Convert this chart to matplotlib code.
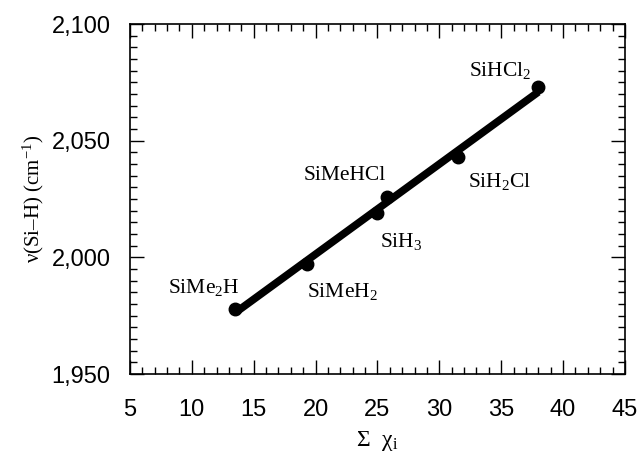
#!/usr/bin/env python3
import matplotlib
matplotlib.use("Agg")
import matplotlib.pyplot as plt
import numpy as np
from matplotlib.ticker import MultipleLocator, FuncFormatter

plt.rcParams["mathtext.fontset"] = "custom"
plt.rcParams["mathtext.rm"] = "Liberation Serif"
plt.rcParams["mathtext.it"] = "Liberation Serif:italic"

# data
names = [r"SiMe$_2$H", r"SiMeH$_2$", r"SiH$_3$", "SiMeHCl", r"SiH$_2$Cl", r"SiHCl$_2$"]
sum_chi = [13.5, 19.3, 25.0, 25.8, 31.5, 38.0]
nu_sih = [1978, 1997, 2019, 2026, 2043, 2073]

# label anchors (data coords, left/center aligned)
label_x = [8.1, 19.3, 25.2, 19.0, 32.3, 32.4]
label_y = [1987, 1985.5, 2007, 2035.3, 2032.7, 2080]

serif = "Liberation Serif"
sans = "Liberation Sans"

fig = plt.figure(figsize=(6.39, 4.54), dpi=100)
ax = fig.add_axes([0.2034, 0.1762, 0.7746, 0.7708])

x = np.array(sum_chi)
y = np.array(nu_sih)
slope, icpt = np.polyfit(x, y, 1)
ax.plot([x.min(), x.max()], [slope * x.min() + icpt, slope * x.max() + icpt],
        color="black", lw=5.5, solid_capstyle="butt")
ax.plot(x, y, "o", color="black", ms=9)

for name, lx, ly in zip(names, label_x, label_y):
    ax.text(lx, ly, name, fontsize=15.5, family=serif, ha="left", va="center")

ax.set_xlim(5, 45)
ax.set_ylim(1950, 2100)
ax.xaxis.set_major_locator(MultipleLocator(5))
ax.xaxis.set_minor_locator(MultipleLocator(1))
ax.yaxis.set_major_locator(MultipleLocator(50))
ax.yaxis.set_minor_locator(MultipleLocator(5))
ax.yaxis.set_major_formatter(FuncFormatter(lambda v, p: f"{v:,.0f}"))

ax.tick_params(which="both", direction="in", top=True, right=True, width=1.0)
ax.tick_params(which="major", length=10, labelsize=17)
ax.tick_params(axis="x", which="major", pad=18)
ax.tick_params(axis="y", which="major", pad=14)
ax.tick_params(which="minor", length=5)
for lab in ax.get_xticklabels() + ax.get_yticklabels():
    lab.set_family(sans)
for s in ax.spines.values():
    s.set_linewidth(1.2)

ax.set_xlabel(r"Σ  χ$_\mathrm{i}$", fontsize=17, family=serif, labelpad=6)
ax.set_ylabel(r"ν(Si–H) (cm$^{\mathrm{-1}}$)", fontsize=15, family=serif, labelpad=4)

fig.savefig("out.png", dpi=100)
